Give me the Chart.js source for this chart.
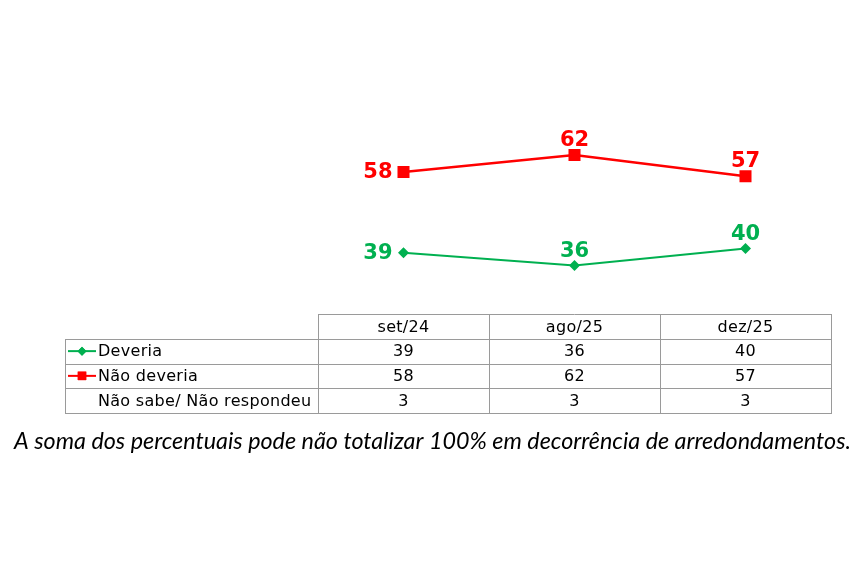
<!DOCTYPE html>
<html>
<head>
<meta charset="utf-8">
<script src="https://cdn.jsdelivr.net/npm/chart.js@4"></script>
<style>
  body { margin: 0; background: #fff; }
  canvas { display: block; }
</style>
</head>
<body>
<canvas id="chart" width="860" height="570"></canvas>
<script>
// Data
const periods = ['set/24', 'ago/25', 'dez/25'];
const deveria = [39, 36, 40];
const naoDeveria = [58, 62, 57];
const naoSabe = [3, 3, 3];
const seriesNames = ['Deveria', 'Não deveria', 'Não sabe/ Não respondeu'];
const footnote = 'A soma dos percentuais pode não totalizar 100% em decorrência de arredondamentos.';

const GREEN = '#00b050';
const RED = '#ff0000';
const GRID = '#9a9a9a';

// Value labels next to the points: first one on the left, the rest above
const pointLabels = {
    id: 'pointLabels',
    afterDatasetsDraw(chart) {
        const ctx = chart.ctx;
        ctx.save();
        ctx.font = 'bold 21px "DejaVu Sans"';
        chart.data.datasets.forEach((ds, di) => {
            const meta = chart.getDatasetMeta(di);
            meta.data.forEach((pt, i) => {
                ctx.fillStyle = ds.borderColor;
                if (i === 0) {
                    ctx.textAlign = 'right';
                    ctx.textBaseline = 'middle';
                    ctx.fillText(ds.data[i], pt.x - 11, pt.y + 1);
                } else {
                    ctx.textAlign = 'center';
                    ctx.textBaseline = 'alphabetic';
                    ctx.fillText(ds.data[i], pt.x, pt.y - 9);
                }
            });
        });
        ctx.restore();
    }
};

// Data table under the plot
const dataTable = {
    id: 'dataTable',
    afterDraw(chart) {
        const ctx = chart.ctx;
        const xs = chart.scales.x;
        const left = 65, top = 314, rowH = 24.75;
        const colW = (xs.right - xs.left) / periods.length;
        const rows = [deveria, naoDeveria, naoSabe];
        const bottom = top + rowH * (rows.length + 1);

        ctx.save();
        ctx.strokeStyle = GRID;
        ctx.lineWidth = 1;
        ctx.beginPath();
        // header top line (only over the period columns)
        ctx.moveTo(xs.left, top + 0.5); ctx.lineTo(xs.right, top + 0.5);
        for (let r = 1; r <= rows.length + 1; r++) {
            const y = Math.round(top + r * rowH) + 0.5;
            ctx.moveTo(left, y); ctx.lineTo(xs.right, y);
        }
        ctx.moveTo(left + 0.5, Math.round(top + rowH)); ctx.lineTo(left + 0.5, Math.round(bottom) + 1);
        for (let c = 0; c <= periods.length; c++) {
            const x = Math.round(xs.left + c * colW) + 0.5;
            ctx.moveTo(x, top); ctx.lineTo(x, Math.round(bottom) + 1);
        }
        ctx.stroke();

        ctx.font = '16px "DejaVu Sans"';
        ctx.letterSpacing = '0.3px';
        ctx.fillStyle = '#000';
        ctx.textBaseline = 'middle';
        ctx.textAlign = 'center';
        periods.forEach((p, i) => {
            ctx.fillText(p, xs.getPixelForValue(i), top + rowH / 2 + 1);
        });
        rows.forEach((vals, r) => {
            const cy = top + rowH * (r + 1.5) + 1;
            vals.forEach((v, i) => {
                ctx.fillText(v, xs.getPixelForValue(i), cy);
            });
        });

        // row headers with legend keys
        const keys = [
            { color: GREEN, style: 'rectRot', radius: 4.5 },
            { color: RED, style: 'rect', radius: 6 },
            null
        ];
        seriesNames.forEach((name, r) => {
            const cy = top + rowH * (r + 1.5);
            const k = keys[r];
            if (k) {
                ctx.strokeStyle = k.color;
                ctx.lineWidth = 2;
                ctx.beginPath();
                ctx.moveTo(68, cy); ctx.lineTo(96, cy);
                ctx.stroke();
                ctx.fillStyle = k.color;
                Chart.helpers.drawPoint(ctx, { pointStyle: k.style, radius: k.radius, borderWidth: 0 }, 82, cy);
                ctx.fill();
            }
            ctx.fillStyle = '#000';
            ctx.textAlign = 'left';
            ctx.fillText(name, 98, cy + 1);
        });
        ctx.letterSpacing = '0px';

        // footnote
        ctx.font = 'italic 20px Lato';
        const w = ctx.measureText(footnote).width;
        const size = 20 * 837 / w;
        ctx.font = 'italic ' + size.toFixed(2) + 'px Lato';
        ctx.textAlign = 'center';
        ctx.textBaseline = 'alphabetic';
        ctx.fillStyle = '#000';
        ctx.fillText(footnote, 432.5, 449);
        ctx.restore();
    }
};

const whiteBg = {
    id: 'whiteBg',
    beforeDraw(chart) {
        const ctx = chart.ctx;
        ctx.save();
        ctx.fillStyle = '#fff';
        ctx.fillRect(0, 0, chart.width, chart.height);
        ctx.restore();
    }
};

const ctx = document.getElementById('chart').getContext('2d');
const chart = new Chart(ctx, {
    type: 'line',
    data: {
        labels: periods,
        datasets: [{
            label: seriesNames[0],
            data: deveria,
            borderColor: GREEN,
            backgroundColor: GREEN,
            borderWidth: 2.2,
            pointStyle: 'rectRot',
            pointRadius: 5.5,
            pointBorderWidth: 0,
            tension: 0
        }, {
            label: seriesNames[1],
            data: naoDeveria,
            borderColor: RED,
            backgroundColor: RED,
            borderWidth: 2.6,
            pointStyle: 'rect',
            pointRadius: 8.5,
            pointBorderWidth: 0,
            tension: 0
        }]
    },
    options: {
        responsive: false,
        animation: false,
        layout: {
            padding: { left: 318, right: 29, top: 121, bottom: 279 }
        },
        scales: {
            x: { display: false, offset: true },
            y: { display: false, min: 30, max: 70 }
        },
        plugins: {
            legend: { display: false },
            tooltip: { enabled: false }
        }
    },
    plugins: [whiteBg, pointLabels, dataTable]
});
</script>
</body>
</html>
